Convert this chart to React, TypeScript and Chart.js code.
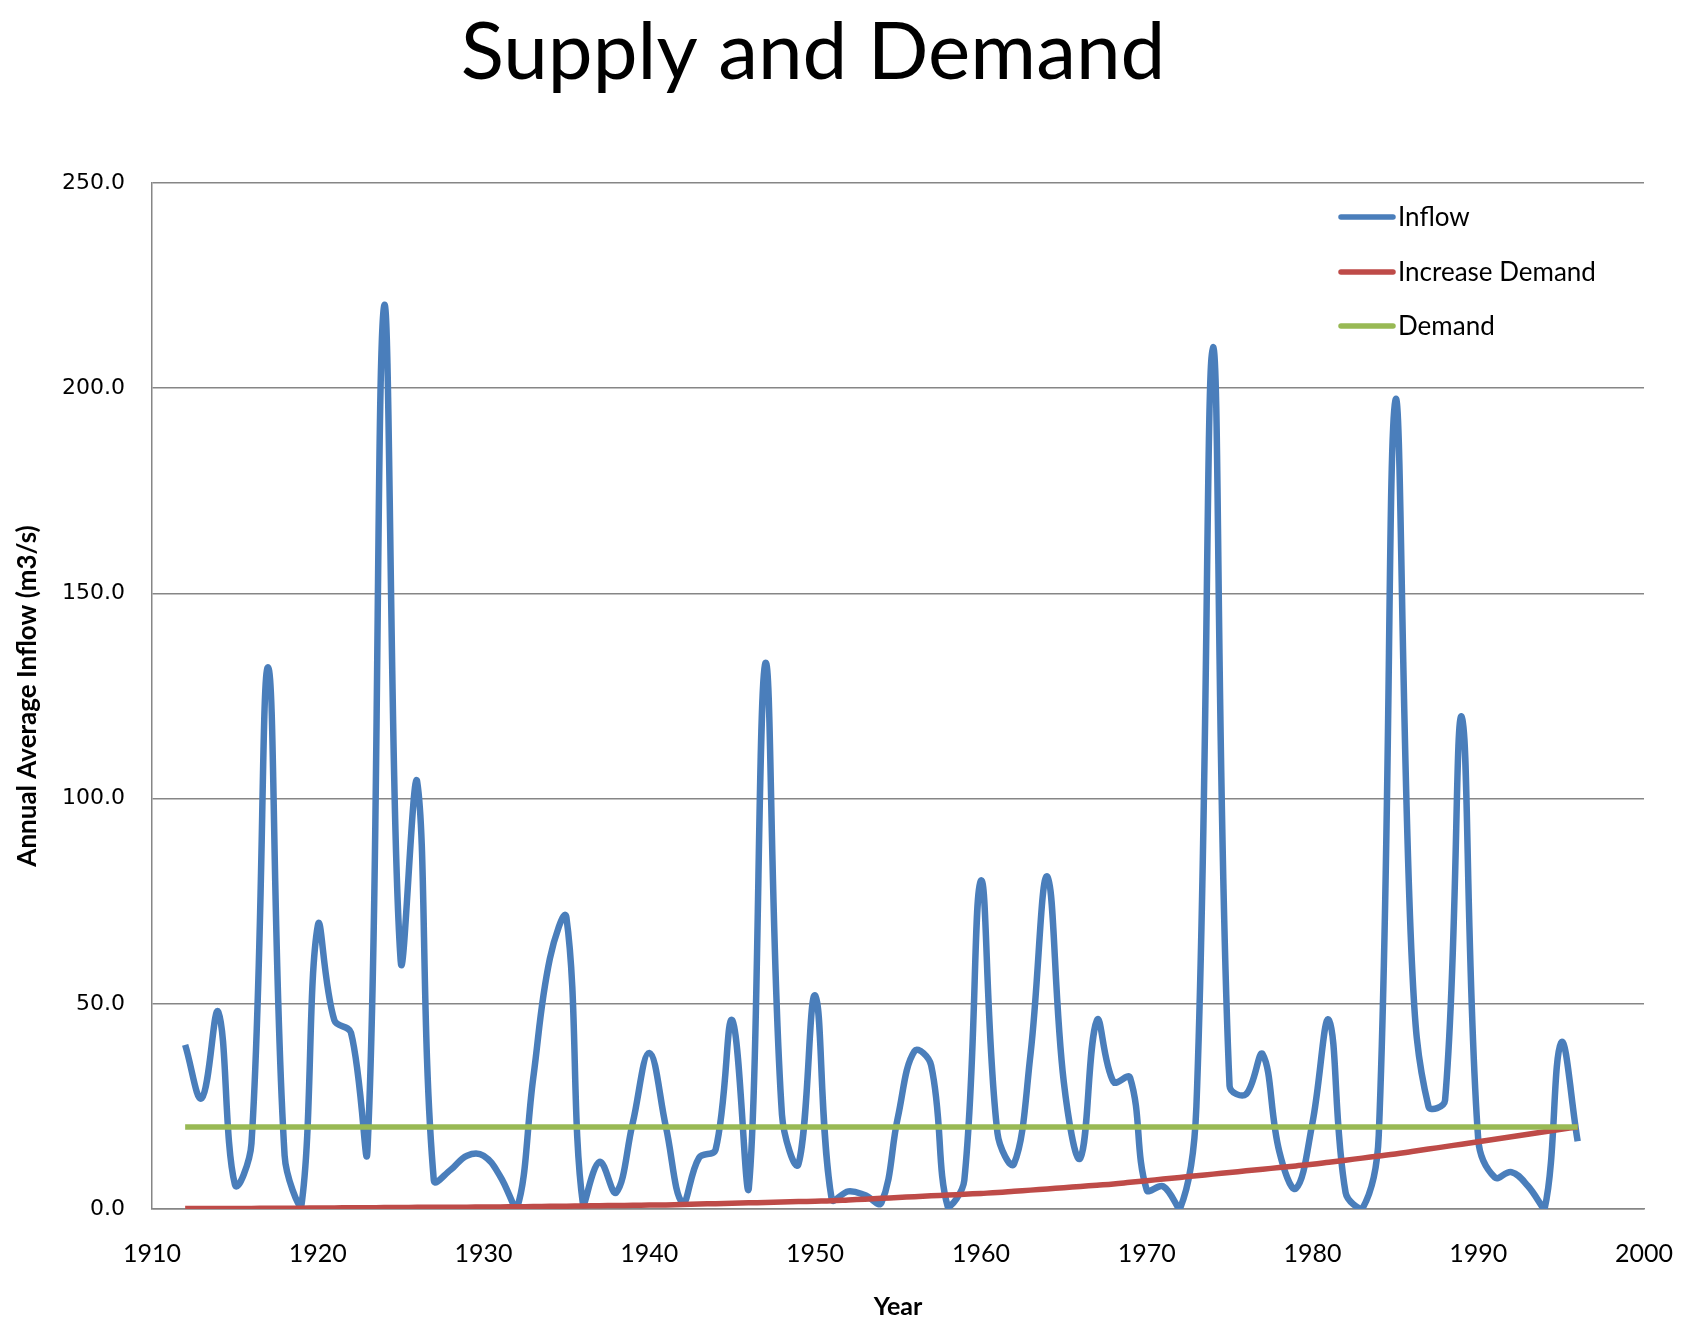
import React, { useEffect, useRef } from "react";
import { Chart, registerables } from "chart.js";

Chart.register(...registerables);

const YEARS = [
  1912, 1913, 1914, 1915, 1916, 1917, 1918, 1919, 1920, 1921, 1922, 1923, 1924, 1925, 1926, 1927, 1928, 1929, 1930, 1931,
  1932, 1933, 1934, 1935, 1936, 1937, 1938, 1939, 1940, 1941, 1942, 1943, 1944, 1945, 1946, 1947, 1948, 1949, 1950, 1951,
  1952, 1953, 1954, 1955, 1956, 1957, 1958, 1959, 1960, 1961, 1962, 1963, 1964, 1965, 1966, 1967, 1968, 1969, 1970, 1971,
  1972, 1973, 1974, 1975, 1976, 1977, 1978, 1979, 1980, 1981, 1982, 1983, 1984, 1985, 1986, 1987, 1988, 1989, 1990, 1991,
  1992, 1993, 1994, 1995, 1996,
];

const INFLOW = [
  40, 27, 48, 6, 16, 132, 13, 0.5, 69, 46, 43, 14.5, 220, 60.5, 104, 7, 9.5, 13, 13, 8,
  0, 32, 61, 71, 1, 11.5, 4, 21, 38, 20, 1.5, 12.5, 14.5, 46, 5, 133, 23, 11, 52, 2.4,
  4.3, 3.4, 1.5, 22.5, 38.5, 35, 0.6, 7, 80, 18.5, 11, 38, 81, 31, 12.4, 46, 31, 32, 4.7, 5.5,
  0, 25, 210, 30, 28, 37.7, 14, 5, 21, 46, 4, 0, 18, 197, 60, 25, 26.5, 120, 17, 7.7,
  9, 5.6, 0, 40.5, 16.5,
];

const INCREASE_DEMAND = [
  0.1, 0.1, 0.1, 0.15, 0.15, 0.2, 0.2, 0.2, 0.25, 0.25, 0.3, 0.3, 0.35, 0.35, 0.4, 0.4, 0.45, 0.45, 0.5, 0.5,
  0.55, 0.6, 0.65, 0.7, 0.75, 0.8, 0.85, 0.9, 0.95, 1.0, 1.1, 1.2, 1.3, 1.4, 1.5, 1.6, 1.7, 1.8, 1.9, 2.0,
  2.2, 2.4, 2.6, 2.8, 3.0, 3.2, 3.4, 3.6, 3.8, 4.0, 4.3, 4.6, 4.9, 5.2, 5.5, 5.8, 6.1, 6.5, 6.9, 7.3,
  7.7, 8.1, 8.5, 8.9, 9.3, 9.7, 10.1, 10.5, 10.9, 11.4, 11.9, 12.4, 12.9, 13.4, 14.0, 14.6, 15.2, 15.8, 16.4, 17.0,
  17.6, 18.2, 18.8, 19.4, 20.0,
];

const DEMAND = [
  20, 20, 20, 20, 20, 20, 20, 20, 20, 20, 20, 20, 20, 20, 20, 20, 20, 20, 20, 20,
  20, 20, 20, 20, 20, 20, 20, 20, 20, 20, 20, 20, 20, 20, 20, 20, 20, 20, 20, 20,
  20, 20, 20, 20, 20, 20, 20, 20, 20, 20, 20, 20, 20, 20, 20, 20, 20, 20, 20, 20,
  20, 20, 20, 20, 20, 20, 20, 20, 20, 20, 20, 20, 20, 20, 20, 20, 20, 20, 20, 20,
  20, 20, 20, 20, 20,
];

const SERIES_NAMES = ["Inflow", "Increase Demand", "Demand"];
const SERIES_COLORS = ["#4A7EBB", "#BE4B48", "#98B954"];
const TITLE = "Supply and Demand";
const X_TITLE = "Year";
const Y_TITLE = "Annual Average Inflow (m3/s)";

const W = 1705;
const H = 1341;

const overlayPlugin = {
  id: "overlay",
  afterDraw(chart: any) {
    const ctx = chart.ctx;
    ctx.save();
    // title
    ctx.fillStyle = "#000";
    ctx.font = "80px Lato";
    ctx.textAlign = "center";
    ctx.textBaseline = "alphabetic";
    ctx.fillText(TITLE, 813, 79);
    // legend
    ctx.font = "26px Lato";
    ctx.textAlign = "left";
    ctx.textBaseline = "middle";
    const rows = [217, 272, 326];
    SERIES_NAMES.forEach((name, i) => {
      ctx.strokeStyle = SERIES_COLORS[i];
      ctx.lineWidth = 5.5;
      ctx.lineCap = "round";
      ctx.beginPath();
      ctx.moveTo(1341, rows[i]);
      ctx.lineTo(1393, rows[i]);
      ctx.stroke();
      ctx.fillStyle = "#000";
      ctx.fillText(name, 1398, rows[i] + 1);
    });
    ctx.restore();
  },
};

export default function App() {
  const ref = useRef<HTMLCanvasElement | null>(null);

  useEffect(() => {
    if (!ref.current) return;
    const mk = (arr: number[]) => YEARS.map((yr, i) => ({ x: yr, y: arr[i] }));
    const chart = new Chart(ref.current, {
      type: "line",
      data: {
        datasets: [
          {
            label: SERIES_NAMES[0],
            data: mk(INFLOW),
            borderColor: SERIES_COLORS[0],
            borderWidth: 6.5,
            pointRadius: 0,
            tension: 0.4,
            order: 3,
          },
          {
            label: SERIES_NAMES[1],
            data: mk(INCREASE_DEMAND),
            borderColor: SERIES_COLORS[1],
            borderWidth: 5.5,
            pointRadius: 0,
            tension: 0.4,
            order: 2,
          },
          {
            label: SERIES_NAMES[2],
            data: mk(DEMAND),
            borderColor: SERIES_COLORS[2],
            borderWidth: 5.5,
            pointRadius: 0,
            tension: 0,
            order: 1,
          },
        ],
      },
      options: {
        responsive: false,
        animation: false,
        devicePixelRatio: 1,
        layout: { padding: { top: 183, left: 0, right: 61, bottom: 0 } },
        plugins: {
          legend: { display: false },
          title: { display: false },
          tooltip: { enabled: false },
        },
        scales: {
          x: {
            type: "linear",
            min: 1910,
            max: 2000,
            grid: { display: false, drawTicks: false },
            border: { display: true, color: "#868686", width: 1.5 },
            ticks: {
              stepSize: 10,
              padding: 30,
              color: "#000",
              font: { family: "Lato", size: 25 },
              callback: (v: any) => String(v),
            },
            title: {
              display: true,
              text: X_TITLE,
              color: "#000",
              font: { family: "Lato", size: 25, weight: "bold" },
              padding: { top: 0, bottom: 19 },
            },
            afterFit: (s: any) => {
              s.height = H - 1209;
            },
          },
          y: {
            type: "linear",
            min: 0,
            max: 250,
            grid: { display: true, drawTicks: false, color: "#868686", lineWidth: 1.5 },
            border: { display: true, color: "#868686", width: 1.5 },
            ticks: {
              stepSize: 50,
              padding: 27,
              color: "#000",
              font: { family: "DejaVu Sans", size: 22 },
              callback: (v: any) => Number(v).toFixed(1),
            },
            title: {
              display: true,
              text: Y_TITLE,
              color: "#000",
              font: { family: "Lato", size: 26, weight: "bold" },
              padding: { top: 12, bottom: 0 },
            },
            afterFit: (s: any) => {
              s.width = 152;
            },
          },
        },
      },
      plugins: [overlayPlugin],
    });
    return () => chart.destroy();
  }, []);

  return (
    <div style={{ position: "absolute", left: 0, top: 0, width: W, height: H, background: "#fff" }}>
      <canvas ref={ref} width={W} height={H} style={{ width: W, height: H, display: "block" }} />
    </div>
  );
}
